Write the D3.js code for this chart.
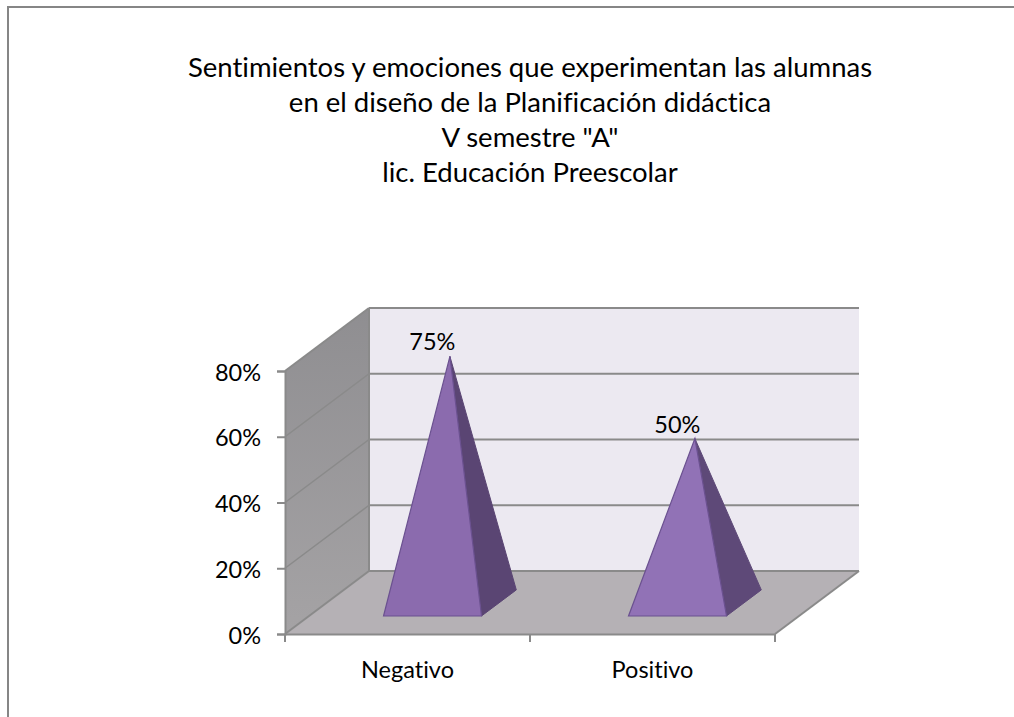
<!DOCTYPE html>
<html>
<head>
<meta charset="utf-8">
<script src="https://cdn.jsdelivr.net/npm/d3@7"></script>
<style>
  html, body { margin: 0; padding: 0; background: #fff; overflow: hidden; }
  text { font-family: Lato, "Open Sans", sans-serif; fill: #000; font-variant-ligatures: none; }
</style>
</head>
<body>
<svg width="1014" height="717"></svg>
<script>
var titleLines = [
  'Sentimientos y emociones que experimentan las alumnas',
  'en el diseño de la Planificación didáctica',
  'V semestre "A"',
  'lic. Educación Preescolar'
];
var categories = ['Negativo', 'Positivo'];
var values = [0.75, 0.5];
var labels = ['75%', '50%'];
var yTicks = [0, 0.2, 0.4, 0.6, 0.8];

var svg = d3.select('svg');

// 3d box: front plane plus a depth offset towards the back wall
var depthX = 84, depthY = -63;
var x = d3.scaleBand().domain(categories).range([285, 775]).paddingInner(0.6).paddingOuter(0.3);
var y = d3.scaleLinear().domain([0, 0.8]).range([634, 371]);
var fmt = d3.format('.0%');

function project(px, depth, v) {
  return [px + depth * depthX, y(v) + depth * depthY];
}
var line = d3.line();
function closedPath(pts) { return line(pts) + 'Z'; }

var defs = svg.append('defs');
var sideGrad = defs.append('linearGradient').attr('id', 'sideGrad')
  .attr('x1', 0).attr('y1', 0).attr('x2', 0).attr('y2', 1);
sideGrad.append('stop').attr('offset', 0).attr('stop-color', '#8f8e91');
sideGrad.append('stop').attr('offset', 1).attr('stop-color', '#a5a3a5');

// page frame, only top and left show
svg.append('path')
  .attr('d', line([[8, 717], [8, 7], [1014, 7]]))
  .attr('fill', 'none').attr('stroke', '#868686').attr('stroke-width', 2);

var x0 = x.range()[0], x1 = x.range()[1], yMax = y.domain()[1];

// walls and floor
svg.append('path').attr('d', closedPath([project(x0, 1, 0), project(x1, 1, 0), project(x1, 1, yMax), project(x0, 1, yMax)]))
  .attr('fill', '#ece9f1');
svg.append('path').attr('d', closedPath([project(x0, 0, 0), project(x0, 1, 0), project(x0, 1, yMax), project(x0, 0, yMax)]))
  .attr('fill', 'url(#sideGrad)');
svg.append('path').attr('d', closedPath([project(x0, 0, 0), project(x1, 0, 0), project(x1, 1, 0), project(x0, 1, 0)]))
  .attr('fill', '#b5b1b5');

// gridlines
var grid = svg.append('g').attr('fill', 'none').attr('stroke', '#8a8a8a').attr('stroke-width', 2);
yTicks.forEach(function (t) {
  grid.append('path').attr('d', line([project(x0, 1, t), project(x1, 1, t)]));
  grid.append('path').attr('d', line([project(x0, 0, t), project(x0, 1, t)]))
    .attr('stroke-width', t === 0 || t === yMax ? 2 : 1.5);
});
grid.append('path').attr('d', line([project(x0, 1, 0), project(x0, 1, yMax)]));
grid.append('path').attr('d', line([project(x1, 0, 0), project(x1, 1, 0)]));

// axes on the front plane
var yAxis = svg.append('g').attr('transform', 'translate(' + x0 + ',0)')
  .call(d3.axisLeft(y).tickValues(yTicks).tickFormat(fmt).tickSize(8).tickPadding(16));
yAxis.selectAll('text').attr('dy', '0.39em');
var xAxis = svg.append('g').attr('transform', 'translate(0,' + y(0) + ')')
  .call(d3.axisBottom(x).tickSize(0).tickPadding(27));
xAxis.selectAll('.tick').attr('transform', function (d) {
  return 'translate(' + (x(d) + x.bandwidth() / 2) + ',0)';
});
xAxis.append('g').selectAll('line')
  .data([x0, (x0 + x1) / 2, x1])
  .enter().append('line')
    .attr('x1', function (d) { return d; })
    .attr('x2', function (d) { return d; })
    .attr('y1', 0).attr('y2', 8);
[yAxis, xAxis].forEach(function (a) {
  a.selectAll('path, line').attr('stroke', '#8a8a8a').attr('stroke-width', 2);
  a.selectAll('text').style('font-size', '23.5px').style('font-family', 'Lato');
});

// pyramids
var depthFront = 0.286, depthBack = 0.7;
var faceColors = [['#8b6bae', '#5a4573'], ['#9172b6', '#5e4978']];
categories.forEach(function (c, i) {
  var bx0 = x(c) + 1, bx1 = bx0 + x.bandwidth(),
      cx = (bx0 + bx1) / 2, cd = (depthFront + depthBack) / 2,
      baseFrontL = project(bx0, depthFront, 0),
      baseFrontR = project(bx1, depthFront, 0),
      baseBackR = project(bx1, depthBack, 0),
      apex = project(cx, cd, values[i]);

  svg.append('path').attr('d', closedPath([apex, baseFrontR, baseBackR]))
    .attr('fill', faceColors[i][1]).attr('stroke', faceColors[i][1]).attr('stroke-width', 1);
  svg.append('path').attr('d', closedPath([apex, baseFrontL, baseFrontR]))
    .attr('fill', faceColors[i][0]).attr('stroke', '#6b5190').attr('stroke-width', 1.2);

  svg.append('text')
    .attr('x', apex[0] - 17.5).attr('y', apex[1] - 6)
    .attr('text-anchor', 'middle')
    .style('font-size', '23.5px')
    .text(labels[i]);
});

// title, centred on the chart frame which runs past the right edge of the page
svg.append('g').selectAll('text')
  .data(titleLines)
  .enter().append('text')
    .attr('x', 530)
    .attr('y', function (d, i) { return 76.5 + i * 35.3; })
    .attr('text-anchor', 'middle')
    .style('font-size', '27.5px')
    .text(function (d) { return d; });
</script>
</body>
</html>
